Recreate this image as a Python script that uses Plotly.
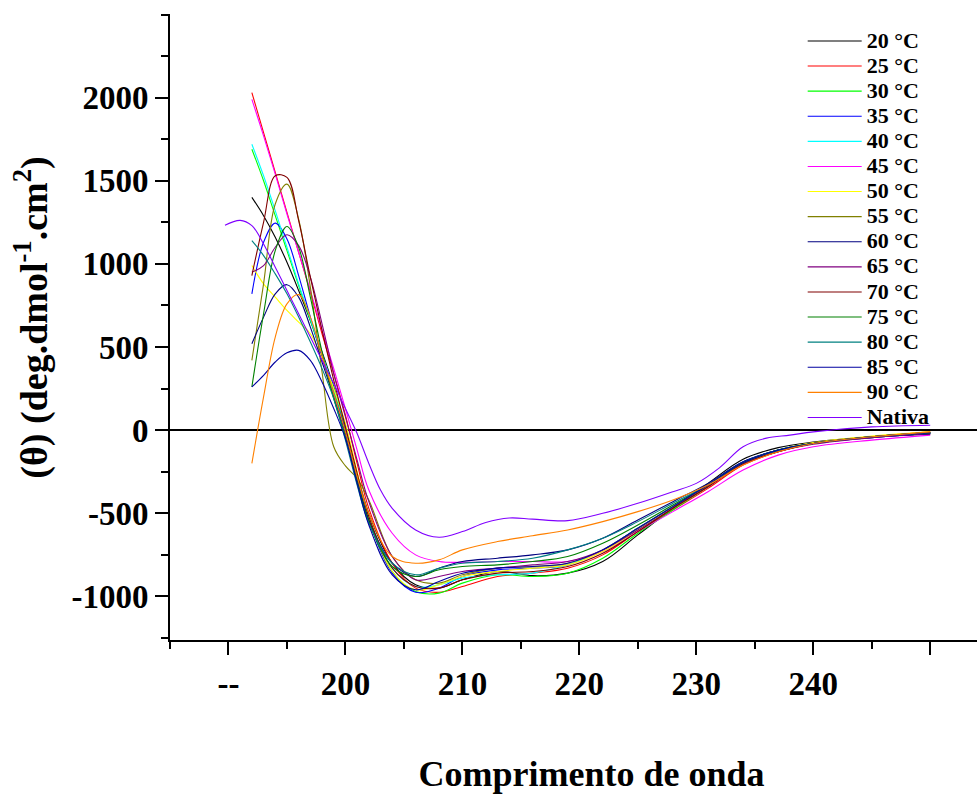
import plotly.graph_objects as go

# wavelength knots (nm)
wavelength = [192, 193, 194, 195, 196, 197, 198, 199, 200, 201, 202, 204, 206, 208,
              210, 213, 216, 219, 222, 225, 228, 231, 234, 237, 240, 245, 250]

t20 = [1400, 1290, 1160, 1010, 840, 660, 470, 260, 20, -260, -500, -800, -930, -950,
       -900, -850, -875, -860, -790, -630, -470, -320, -175, -105, -72, -40, -25]
t25 = [2030, 1790, 1550, 1310, 1070, 830, 580, 340, 90, -200, -470, -800, -950, -975,
       -940, -880, -860, -830, -750, -610, -480, -350, -210, -130, -80, -40, -10]
t30 = [1690, 1500, 1290, 1080, 870, 660, 450, 240, 10, -280, -540, -850, -970, -980,
       -920, -870, -880, -860, -770, -620, -480, -340, -200, -120, -80, -40, -20]
t35 = [820, 1130, 1245, 1150, 930, 680, 440, 220, 0, -280, -540, -860, -975, -950,
       -880, -840, -830, -810, -720, -590, -460, -330, -190, -120, -80, -45, -20]
t40 = [1720, 1530, 1320, 1100, 880, 670, 460, 250, 30, -260, -520, -830, -940, -930,
       -890, -870, -860, -810, -720, -590, -460, -330, -195, -120, -80, -40, -15]
t45 = [1990, 1770, 1540, 1300, 1070, 840, 600, 370, 130, -120, -360, -620, -750, -790,
       -795, -790, -790, -790, -730, -610, -490, -370, -240, -150, -100, -60, -30]
t50 = [990, 880, 800, 720, 650, 580, 430, 250, 40, -250, -520, -850, -960, -930,
       -880, -850, -830, -810, -730, -600, -470, -340, -195, -120, -75, -35, -10]
t55 = [420, 880, 1360, 1480, 1270, 860, 350, -100, -215, -290, -420, -760, -900, -920,
       -870, -830, -820, -800, -720, -590, -460, -330, -195, -120, -80, -40, -15]
t60 = [520, 680, 820, 875, 800, 620, 410, 200, -20, -300, -540, -800, -880, -830,
       -790, -770, -750, -720, -650, -540, -430, -320, -190, -120, -80, -45, -20]
t65 = [950, 990, 1100, 1175, 1110, 920, 640, 340, 80, -180, -430, -760, -900, -880,
       -850, -830, -810, -790, -720, -600, -470, -340, -205, -130, -85, -45, -20]
t70 = [930, 1250, 1530, 1520, 1260, 920, 600, 300, 20, -260, -520, -830, -940, -950,
       -900, -860, -850, -820, -740, -610, -470, -340, -200, -130, -80, -40, -15]
t75 = [260, 700, 1080, 1225, 1100, 800, 470, 190, -40, -310, -550, -820, -880, -840,
       -820, -810, -790, -760, -680, -570, -450, -330, -195, -120, -80, -40, -15]
t80 = [1140, 1050, 940, 820, 680, 530, 370, 190, -60, -330, -560, -800, -870, -830,
       -800, -790, -770, -720, -650, -550, -440, -330, -195, -120, -80, -40, -15]
t85 = [260, 330, 410, 465, 480, 420, 290, 130, -50, -320, -570, -870, -960, -910,
       -860, -830, -820, -800, -720, -590, -460, -330, -195, -120, -80, -40, -15]
t90 = [-200, 200, 560, 760, 815, 680, 450, 220, -10, -280, -500, -760, -800, -780,
       -720, -670, -635, -600, -550, -490, -420, -330, -210, -130, -80, -40, -10]

wavelength_nativa = [189.7, 191, 192, 193, 194, 195, 196, 197, 198, 199, 200, 201, 202, 203,
                     204, 206, 208, 210, 212, 214, 216, 219, 222, 225, 228, 230, 232, 234,
                     236, 238, 240, 245, 250]
nativa = [1232, 1262, 1230, 1120, 980, 840, 700, 560, 420, 280, 130, -20, -200, -360,
          -470, -600, -644, -610, -555, -528, -535, -544, -500, -440, -370, -320, -225, -100,
          -48, -30, -10, 20, 30]

series_names = ["20 °C", "25 °C", "30 °C", "35 °C", "40 °C", "45 °C", "50 °C", "55 °C",
                "60 °C", "65 °C", "70 °C", "75 °C", "80 °C", "85 °C", "90 °C"]
series_values = [t20, t25, t30, t35, t40, t45, t50, t55, t60, t65, t70, t75, t80, t85, t90]
colors = ["#000000", "#FF0000", "#00FF00", "#0000FF", "#00FFFF", "#FF00FF", "#FFFF00",
          "#808000", "#000080", "#800080", "#800000", "#008000", "#008080", "#0000A0",
          "#FF8000", "#8000FF"]

x_tickvals = [190, 200, 210, 220, 230, 240, 250]
x_ticktext = ["--", "200", "210", "220", "230", "240", " "]
y_tickvals = [-1000, -500, 0, 500, 1000, 1500, 2000]
y_ticktext = ["-1000", "-500", "0", "500", "1000", "1500", "2000"]

FONT = "Liberation Serif"
NB = "&nbsp;"

fig = go.Figure()
for name, vals, col in zip(series_names, series_values, colors):
    fig.add_trace(go.Scatter(
        x=wavelength, y=vals, mode="lines", name=f'<span style="font-size:22px">{name}</span>',
        line=dict(color=col, width=1.1, shape="spline", smoothing=1.0)))
fig.add_trace(go.Scatter(
    x=wavelength_nativa, y=nativa, mode="lines",
    name='<span style="font-size:22px">Nativa</span>',
    line=dict(color=colors[15], width=1.1, shape="spline", smoothing=1.0)))

fig.update_layout(
    width=977, height=798,
    margin=dict(l=170, r=0, t=14, b=158, autoexpand=False),
    paper_bgcolor="white", plot_bgcolor="white",
    font=dict(family=FONT, color="black", size=32, weight="bold"),
    showlegend=True,
    legend=dict(x=0.784, y=0.985, xanchor="left", yanchor="top",
                bgcolor="rgba(0,0,0,0)", itemwidth=54,
                font=dict(family=FONT, size=17, color="black", weight="bold"),
                tracegroupgap=0),
    xaxis=dict(range=[185, 254], showgrid=False, zeroline=False, automargin=False,
               showline=True, linecolor="black", linewidth=2,
               ticks="outside", ticklen=13, tickwidth=2, tickcolor="black",
               tickvals=x_tickvals, ticktext=x_ticktext,
               tickfont=dict(family=FONT, size=33, color="black", weight="bold"),
               ticklabelstandoff=0,
               minor=dict(dtick=5, tick0=185, ticks="outside", ticklen=7, tickwidth=2,
                          tickcolor="black", showgrid=False),
               title=dict(text=NB * 4 + "Comprimento de onda", standoff=60,
                          font=dict(family=FONT, size=36, color="black", weight="bold"))),
    yaxis=dict(range=[-1262, 2503], showgrid=False, automargin=False,
               zeroline=True, zerolinecolor="black", zerolinewidth=2,
               showline=True, linecolor="black", linewidth=2,
               ticks="outside", ticklen=13, tickwidth=2, tickcolor="black",
               tickvals=y_tickvals, ticktext=y_ticktext,
               tickfont=dict(family=FONT, size=33, color="black", weight="bold"),
               ticklabelstandoff=0,
               minor=dict(dtick=250, tick0=0, ticks="outside", ticklen=7, tickwidth=2,
                          tickcolor="black", showgrid=False),
               title=dict(text=NB * 2 + "(θ) (deg.dmol<sup>-1</sup>.cm<sup>2</sup>)", standoff=12,
                          font=dict(family=FONT, size=38, color="black", weight="bold"))),
)

fig.write_html(
    "out.html",
    config={"displayModeBar": False},
    post_script="document.body.style.margin='0';document.body.style.overflow='hidden';",
)
